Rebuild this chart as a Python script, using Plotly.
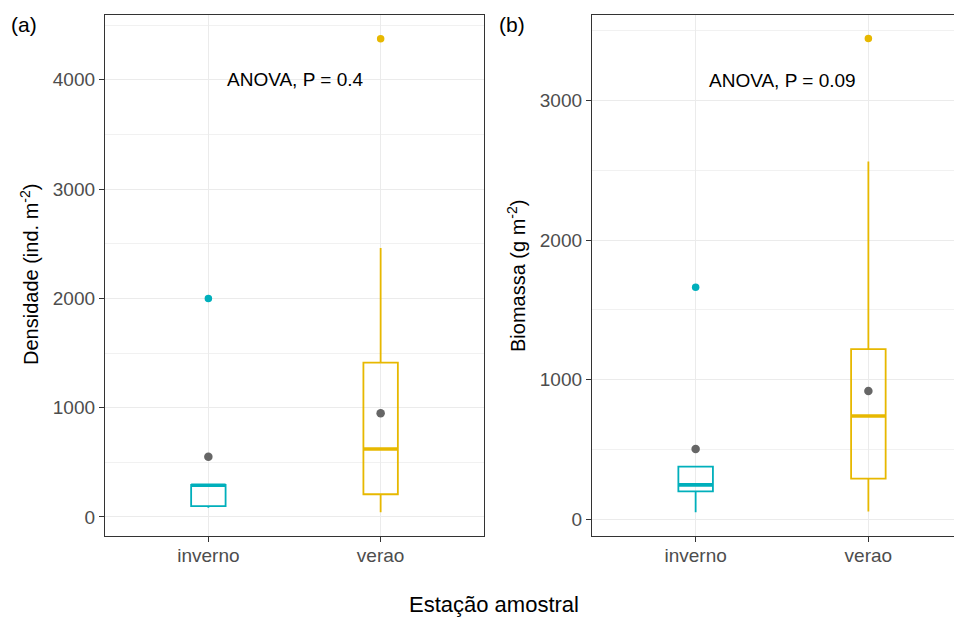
import plotly.graph_objects as go

# ---------------- data ----------------
seasons = ["inverno", "verao"]
season_pos = [1, 2]
colors = ["#00AFBB", "#E7B800"]

# Densidade (ind. m-2)
dens_q1 = [100, 208]
dens_median = [290, 622]
dens_q3 = [293, 1412]
dens_lower = [85, 43]
dens_upper = [293, 2461]
dens_mean = [552, 949]
dens_outlier = [2000, 4376]

# Biomassa (g m-2)
bio_q1 = [200, 291]
bio_median = [246, 740]
bio_q3 = [377, 1218]
bio_lower = [50, 55]
bio_upper = [377, 2562]
bio_mean = [504, 919]
bio_outlier = [1662, 3443]

dens_ticks = [0, 1000, 2000, 3000, 4000]
dens_minor = [500, 1500, 2500, 3500, 4500]
bio_ticks = [0, 1000, 2000, 3000]
bio_minor = [500, 1500, 2500, 3500]

anova_text = ["ANOVA, P = 0.4", "ANOVA, P = 0.09"]
anova_y = [4000, 3140]

BOX_W = 0.2
FONT = "Liberation Sans, Arial, sans-serif"
MEAN_COLOR = "#666666"

fig = go.Figure()

panels = [
    ("x", "y", dens_q1, dens_median, dens_q3, dens_lower, dens_upper, dens_mean, dens_outlier),
    ("x2", "y2", bio_q1, bio_median, bio_q3, bio_lower, bio_upper, bio_mean, bio_outlier),
]

for xa, ya, q1, med, q3, lo, hi, mean, outl in panels:
    for i, pos in enumerate(season_pos):
        c = colors[i]
        fig.add_trace(go.Box(
            x=[pos], q1=[q1[i]], median=[med[i]], q3=[q3[i]],
            lowerfence=[lo[i]], upperfence=[hi[i]],
            width=BOX_W, whiskerwidth=0, boxpoints=False,
            line=dict(color=c, width=1.8), fillcolor="rgba(255,255,255,0)",
            xaxis=xa, yaxis=ya, showlegend=False, hoverinfo="skip",
        ))
        # thicker median line
        fig.add_trace(go.Scatter(
            x=[pos - BOX_W / 2, pos + BOX_W / 2], y=[med[i], med[i]],
            mode="lines", line=dict(color=c, width=3.6),
            xaxis=xa, yaxis=ya, showlegend=False, hoverinfo="skip",
        ))
        # outlier
        fig.add_trace(go.Scatter(
            x=[pos], y=[outl[i]], mode="markers",
            marker=dict(color=c, size=7.5),
            xaxis=xa, yaxis=ya, showlegend=False, hoverinfo="skip",
        ))
        # mean
        fig.add_trace(go.Scatter(
            x=[pos], y=[mean[i]], mode="markers",
            marker=dict(color=MEAN_COLOR, size=8.5),
            xaxis=xa, yaxis=ya, showlegend=False, hoverinfo="skip",
        ))

# page body has an 8px margin: work in screen pixels and convert
OFF = 8
W, H = 962 - OFF, 617 - OFF


def px(x):
    return (x - OFF) / W


def py(y):
    return (H - (y - OFF)) / H


ydom = [py(536), py(15)]

common_x = dict(
    tickvals=season_pos, ticktext=seasons, showgrid=True, gridcolor="#EBEBEB",
    gridwidth=1.2, showline=True, linecolor="#333333", linewidth=1.3,
    ticks="outside", ticklen=5, tickcolor="#333333", tickwidth=1.2,
    tickfont=dict(size=19, color="#4D4D4D", family=FONT), zeroline=False,
    ticklabelstandoff=-3,
)
common_y = dict(
    showgrid=True, gridcolor="#EBEBEB", gridwidth=1.2, showline=True,
    linecolor="#333333", linewidth=1.3, ticks="outside", ticklen=5,
    tickcolor="#333333", tickwidth=1.2,
    tickfont=dict(size=19, color="#4D4D4D", family=FONT), zeroline=False,
    domain=ydom,
)

fig.update_layout(
    width=W, height=H, margin=dict(l=0, r=0, t=0, b=0),
    paper_bgcolor="white", plot_bgcolor="white",
    font=dict(family=FONT, color="black"),
    xaxis=dict(domain=[px(105), px(484)], range=[0.4, 2.6], mirror=True, **common_x),
    xaxis2=dict(domain=[px(592), 1.0], range=[0.4, 2.542], mirror=True, anchor="y2", **common_x),
    yaxis=dict(range=[-174, 4593], tickvals=dens_ticks, mirror=True, anchor="x",
               minor=dict(tickvals=dens_minor, showgrid=True, gridcolor="#F1F1F1", gridwidth=0.8, ticks=""),
               **common_y),
    yaxis2=dict(range=[-120, 3612], tickvals=bio_ticks, mirror=False, anchor="x2",
                minor=dict(tickvals=bio_minor, showgrid=True, gridcolor="#F1F1F1", gridwidth=0.8, ticks=""),
                **common_y),
)


def ann(text, x, y, size, angle=0, xref="paper", yref="paper"):
    return dict(text=text, x=x, y=y, xref=xref, yref=yref, showarrow=False,
                xanchor="center", yanchor="middle", textangle=angle,
                font=dict(size=size, color="black", family=FONT))


annotations = [
    ann(anova_text[0], 1.5, anova_y[0], 19, xref="x", yref="y"),
    ann(anova_text[1], 1.5, anova_y[1], 19, xref="x2", yref="y2"),
    ann("(a)", px(24), py(25), 21),
    ann("(b)", px(512), py(25), 21),
    ann("Densidade (ind. m<sup>-2</sup>)", px(29), py(275), 20, angle=-90),
    ann("Biomassa (g m<sup>-2</sup>)", px(516), py(275), 20, angle=-90),
    ann("Estação amostral", px(494), py(604), 22),
]
fig.update_layout(annotations=annotations)

fig.write_html("out.html")
